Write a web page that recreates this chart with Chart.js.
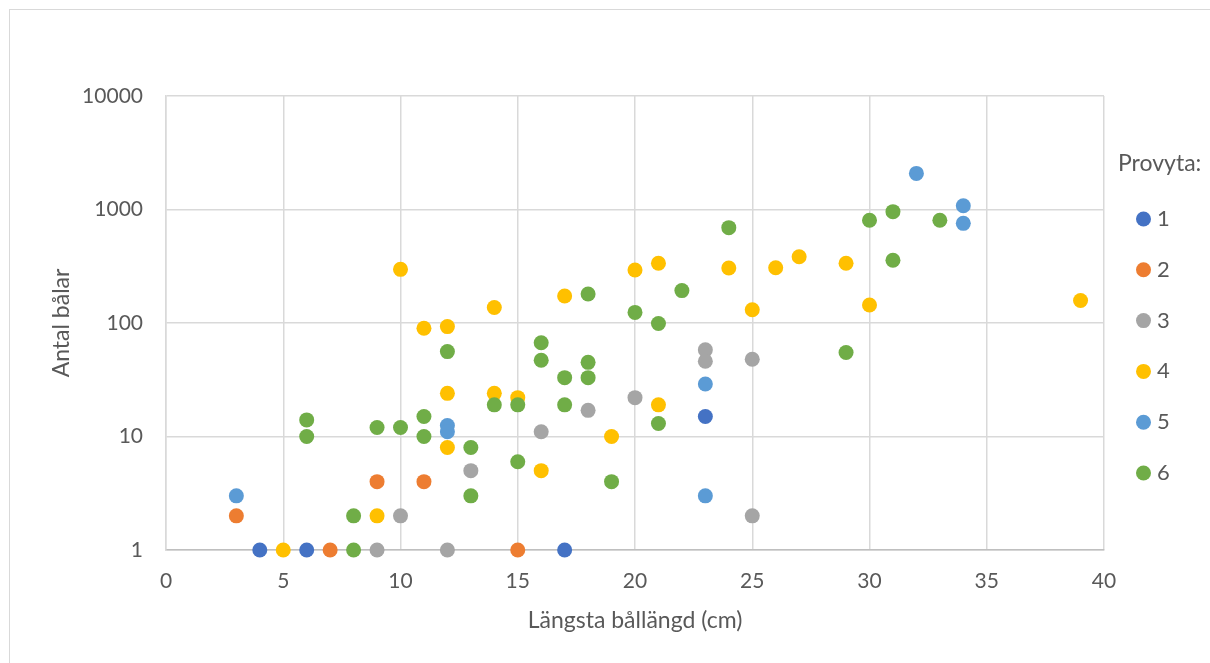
<!DOCTYPE html>
<html lang="sv">
<head>
<meta charset="utf-8">
<title>Provyta</title>
<script src="https://cdn.jsdelivr.net/npm/chart.js@4.4.1/dist/chart.umd.min.js"></script>
<style>
  html, body { margin: 0; padding: 0; background: #fff; }
  canvas { display: block; }
</style>
</head>
<body>
<canvas id="bolChart" width="1210" height="663"></canvas>
<script>
// Provyta 1..6 : längsta bållängd (cm) och antal bålar
const seriesNames = ["1", "2", "3", "4", "5", "6"];
const seriesColors = ["#4472C4", "#ED7D31", "#A5A5A5", "#FFC000", "#5B9BD5", "#70AD47"];

const p1x = [4, 6, 17, 23];
const p1y = [1, 1, 1, 15];

const p2x = [3, 7, 9, 11, 15];
const p2y = [2, 1, 4, 4, 1];

const p3x = [9, 10, 12, 13, 16, 18, 20, 23, 23, 25, 25];
const p3y = [1, 2, 1, 5, 11, 17, 22, 58, 46, 48, 2];

const p4x = [5, 9, 10, 11, 12, 12, 12, 14, 14, 15, 16, 17, 19, 20, 21, 21, 24, 25, 26, 27, 29, 30, 39];
const p4y = [1, 2, 297, 90, 93, 24, 8, 137, 24, 22, 5, 173, 10, 293, 336, 19, 305, 131, 307, 384, 336, 144, 158];

const p5x = [3, 12, 12, 23, 23, 32, 34, 34];
const p5y = [3, 12.5, 11, 29, 3, 2080, 1080, 755];

const p6x = [6, 6, 8, 8, 9, 10, 11, 11, 12, 13, 13, 14, 15, 15, 16, 16, 17, 17, 18, 18, 18, 19, 20, 21, 21, 22, 24, 29, 30, 31, 31, 33];
const p6y = [14, 10, 2, 1, 12, 12, 15, 10, 56, 8, 3, 19, 19, 6, 67, 47, 33, 19, 180, 45, 33, 4, 124, 99, 13, 193, 692, 55, 804, 957, 357, 804];

const xTitle = "Längsta bållängd (cm)";
const yTitle = "Antal bålar";
const legendTitle = "Provyta:";
const yTicks = [1, 10, 100, 1000, 10000];

const allX = [p1x, p2x, p3x, p4x, p5x, p6x];
const allY = [p1y, p2y, p3y, p4y, p5y, p6y];

const textColor = "#595959";
const fontName = "Lato";

const datasets = seriesNames.map((name, i) => ({
  label: name,
  data: allX[i].map((x, j) => ({ x: x, y: allY[i][j] })),
  backgroundColor: seriesColors[i],
  borderWidth: 0,
  pointRadius: 7.5,
  pointHoverRadius: 7.5,
  clip: false,
  order: seriesNames.length - i, // senare serier ritas överst, som i Excel
}));

// egen legend till höger + ram runt diagrammet
const legendPlugin = {
  id: "provytaLegend",
  beforeDraw(chart) {
    const ctx = chart.ctx;
    ctx.save();
    ctx.strokeStyle = "#d9d9d9";
    ctx.lineWidth = 1;
    ctx.strokeRect(9.5, 9.5, 1400, 1000);
    ctx.restore();
  },
  afterDraw(chart) {
    const ctx = chart.ctx;
    const left = chart.chartArea.right;
    ctx.save();
    ctx.textBaseline = "middle";
    ctx.fillStyle = textColor;
    ctx.font = `23px ${fontName}`;
    ctx.fillText(legendTitle, left + 14, 164);
    ctx.font = `22px ${fontName}`;
    chart.data.datasets.forEach((ds, i) => {
      const y = 219 + i * 50.8;
      ctx.beginPath();
      ctx.arc(left + 39.5, y, 7.5, 0, Math.PI * 2);
      ctx.fillStyle = ds.backgroundColor;
      ctx.fill();
      ctx.fillStyle = textColor;
      ctx.fillText(ds.label, left + 53, y);
    });
    ctx.restore();
  },
};

const ctx = document.getElementById("bolChart").getContext("2d");
const bolChart = new Chart(ctx, {
  type: "scatter",
  data: { datasets: datasets },
  options: {
    responsive: false,
    animation: false,
    devicePixelRatio: 1,
    layout: { padding: { left: 0, top: 96, right: 106, bottom: 0 } },
    plugins: {
      legend: { display: false },
      tooltip: { enabled: false },
    },
    scales: {
      x: {
        type: "linear",
        min: 0,
        max: 40,
        afterFit: (scale) => { scale.height = 113; },
        ticks: {
          stepSize: 5,
          padding: 19,
          color: textColor,
          font: { family: fontName, size: 21 },
        },
        grid: { color: "#d9d9d9", lineWidth: 1.5, drawTicks: false },
        border: { color: "#bfbfbf", width: 1.5 },
        title: {
          display: true,
          text: xTitle,
          color: textColor,
          font: { family: fontName, size: 23 },
          padding: { top: 0, bottom: 29 },
        },
      },
      y: {
        type: "logarithmic",
        min: 1,
        max: 10000,
        afterFit: (scale) => { scale.width = 166; },
        afterBuildTicks: (scale) => {
          scale.ticks = yTicks.map((v) => ({ value: v }));
        },
        ticks: {
          padding: 23,
          color: textColor,
          font: { family: fontName, size: 21 },
          callback: (value) => String(value),
        },
        grid: { color: "#d9d9d9", lineWidth: 1.5, drawTicks: false },
        border: { color: "#d9d9d9", width: 1.5 },
        title: {
          display: true,
          text: yTitle,
          color: textColor,
          font: { family: fontName, size: 23 },
          padding: { top: 48, bottom: 0 },
        },
      },
    },
  },
  plugins: [legendPlugin],
});
</script>
</body>
</html>
